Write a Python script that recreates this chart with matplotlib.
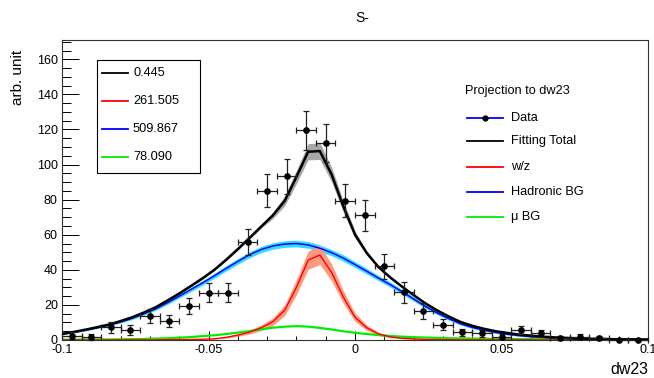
import numpy as np
import matplotlib
matplotlib.use("Agg")
import matplotlib.pyplot as plt
from matplotlib.lines import Line2D
from matplotlib.patches import Rectangle

plt.rcParams["font.family"] = ["Liberation Sans", "DejaVu Sans"]

# ---------------------------------------------------------------------------
# data histogram: 30 bins on [-0.1, 0.1]
# ---------------------------------------------------------------------------
data_y = [2.5, 1.7, 7.2, 5.7, 13.7, 10.9, 19.2, 27.0, 27.0, 56.0,
          85.1, 93.3, 119.6, 112.2, 79.4, 71.0, 41.9, 27.2, 16.7, 8.7,
          4.3, 3.8, 1.9, 5.7, 3.8, 1.0, 1.9, 1.0, 0.0, 0.0]
data_err = [2.0, 1.6, 3.0, 2.6, 4.0, 3.5, 4.5, 5.3, 5.3, 7.5,
            9.4, 10.0, 11.2, 10.9, 9.5, 8.6, 7.0, 6.0, 4.6, 3.2,
            2.2, 2.0, 1.5, 2.5, 2.0, 1.2, 1.5, 1.2, 0.0, 0.0]

# ---------------------------------------------------------------------------
# fit components, sampled every 0.004 on [-0.1, 0.1]
# ---------------------------------------------------------------------------
hadronic = [3.3, 4.4, 5.6, 7.0, 8.5, 10.3, 12.4, 15.0, 17.8, 21.3,
            25.0, 28.8, 32.6, 36.6, 40.8, 44.8, 48.6, 51.6, 53.6, 54.7,
            55.0, 54.2, 52.3, 49.8, 46.7, 43.0, 39.2, 35.3, 31.6, 27.6,
            23.4, 19.2, 15.5, 12.2, 9.3, 7.2, 5.6, 4.3, 3.3, 2.5,
            1.9, 1.5, 1.1, 0.8, 0.6, 0.45, 0.35, 0.25, 0.2, 0.15, 0.1]
had_err = [0.3, 0.4, 0.4, 0.5, 0.5, 0.6, 0.7, 0.8, 0.9, 1.0,
           1.1, 1.2, 1.3, 1.4, 1.5, 1.6, 1.7, 1.8, 1.8, 1.9,
           1.9, 1.9, 1.9, 1.8, 1.8, 1.7, 1.6, 1.5, 1.4, 1.3,
           1.2, 1.1, 1.0, 0.9, 0.8, 0.7, 0.6, 0.5, 0.4, 0.4,
           0.3, 0.3, 0.2, 0.2, 0.2, 0.1, 0.1, 0.1, 0.1, 0.1, 0.1]
wz = [0.0, 0.0, 0.0, 0.0, 0.0, 0.1, 0.1, 0.1, 0.1, 0.2,
      0.2, 0.3, 0.4, 0.7, 1.5, 2.8, 4.5, 7.0, 10.5, 17.0,
      30.0, 45.5, 48.5, 38.6, 24.5, 13.0, 7.0, 3.5, 1.8, 1.0,
      0.6, 0.3, 0.2, 0.2, 0.1, 0.1, 0.1, 0.1, 0.1, 0.1,
      0.1, 0.0, 0.0, 0.0, 0.0, 0.0, 0.0, 0.0, 0.0, 0.0, 0.0]
wz_err = [0.0, 0.0, 0.0, 0.0, 0.0, 0.0, 0.0, 0.0, 0.0, 0.0,
          0.0, 0.0, 0.1, 0.2, 0.4, 0.7, 1.1, 1.6, 2.2, 3.0,
          4.2, 5.2, 5.5, 4.8, 3.6, 2.4, 1.5, 0.9, 0.5, 0.3,
          0.2, 0.1, 0.0, 0.0, 0.0, 0.0, 0.0, 0.0, 0.0, 0.0,
          0.0, 0.0, 0.0, 0.0, 0.0, 0.0, 0.0, 0.0, 0.0, 0.0, 0.0]
mu_bg = [0.2, 0.2, 0.3, 0.3, 0.3, 0.4, 0.5, 0.6, 0.8, 1.0,
         1.3, 1.7, 2.2, 2.7, 3.4, 4.2, 5.1, 6.1, 7.0, 7.6,
         7.9, 7.6, 6.9, 6.0, 5.0, 4.1, 3.4, 2.8, 2.3, 1.9,
         1.6, 1.4, 1.2, 1.0, 0.9, 0.8, 0.7, 0.6, 0.6, 0.5,
         0.5, 0.4, 0.4, 0.4, 0.3, 0.3, 0.3, 0.2, 0.2, 0.2, 0.2]
tot_err = [0.5, 0.5, 0.5, 0.5, 0.5, 0.5, 0.5, 0.5, 0.5, 0.5,
           0.5, 0.5, 0.5, 0.5, 0.6, 0.7, 0.8, 1.0, 1.8, 2.8,
           3.8, 4.6, 4.8, 4.2, 3.2, 2.0, 1.2, 0.8, 0.6, 0.5,
           0.5, 0.5, 0.5, 0.5, 0.5, 0.5, 0.5, 0.5, 0.5, 0.5,
           0.5, 0.5, 0.5, 0.5, 0.5, 0.5, 0.5, 0.5, 0.5, 0.5, 0.5]

legend_values = ["0.445", "261.505", "509.867", "78.090"]
legend_names = ["Data", "Fitting Total", "w/z", "Hadronic BG", "\u03bc BG"]

edges = np.linspace(-0.1, 0.1, len(data_y) + 1)
centers = 0.5 * (edges[:-1] + edges[1:])
half_w = 0.5 * (edges[1] - edges[0])
xg = np.linspace(-0.1, 0.1, len(hadronic))

had = np.array(hadronic)
wzv = np.array(wz)
mu = np.array(mu_bg)
total = had + wzv + mu

W, H = 654, 378
fig = plt.figure(figsize=(W / 100, H / 100), dpi=100)
ax = fig.add_axes([62 / W, 1 - 340 / H, (648 - 62) / W, (340 - 40) / H])

# bands
ax.fill_between(xg, had - np.array(had_err), had + np.array(had_err),
                color="#33ddff", lw=0, zorder=1)
ax.fill_between(xg, wzv - np.array(wz_err), wzv + np.array(wz_err),
                color="#ff9a80", lw=0, zorder=1)
ax.fill_between(xg, total - np.array(tot_err), total + np.array(tot_err),
                color="#a8a8a8", lw=0, zorder=1)

# curves
ax.plot(xg, mu, color="#00ee00", lw=1.6, zorder=2)
ax.plot(xg, wzv, color="#ff0000", lw=1.0, zorder=3)
ax.plot(xg, had, color="#0000ff", lw=1.1, zorder=3)
ax.plot(xg, total, color="black", lw=1.8, zorder=4)

# data
ax.errorbar(centers, data_y, xerr=half_w, yerr=data_err, fmt="o", ms=3.8,
            color="black", ecolor="#222222", elinewidth=0.9, capsize=2,
            capthick=0.9, zorder=5, clip_on=False)

ax.set_xlim(-0.1, 0.1)
ax.set_ylim(0, 171)
ax.set_xticks([-0.1, -0.05, 0, 0.05, 0.1])
ax.set_xticklabels(["-0.1", "-0.05", "0", "0.05", "0.1"])
ax.set_xticks(np.arange(-0.1, 0.1001, 0.01), minor=True)
ax.set_yticks(np.arange(0, 161, 20))
ax.set_yticks(np.arange(0, 171, 5), minor=True)
ax.tick_params(axis="x", which="major", direction="in", length=6.5, width=0.7,
               labelsize=9, pad=3, top=False)
ax.tick_params(axis="x", which="minor", direction="in", length=3.2, width=0.7,
               top=False)
ax.tick_params(axis="y", which="major", direction="in", length=12.5, width=0.7,
               labelsize=9, pad=3, right=False)
ax.tick_params(axis="y", which="minor", direction="in", length=6.3, width=0.7,
               right=False)
for s in ax.spines.values():
    s.set_linewidth(0.8)
    s.set_color("#333333")

# texts
fig.text(362 / W, 1 - 18 / H, "S-", ha="center", va="center", fontsize=10)
fig.text(18 / W, 1 - 50 / H, "arb. unit", ha="center", va="top",
         rotation=90, fontsize=11)
fig.text(648 / W, 1 - 370 / H, "dw23", ha="right", va="center", fontsize=11.5)

# legend 1 (fit parameters)
def fx(px):
    return px / W


def fy(py):
    return 1 - py / H


fig.add_artist(Rectangle((fx(97), fy(173)), fx(200) - fx(97), fy(60) - fy(173),
                         fill=False, ec="black", lw=0.8))
for val, col, py in zip(legend_values, ["black", "red", "blue", "#00ee00"],
                        [73, 101, 129, 157]):
    fig.add_artist(Line2D([fx(102), fx(128)], [fy(py), fy(py)], color=col,
                          lw=1.3))
    fig.text(fx(133), fy(py), val, ha="left", va="center", fontsize=9.2)

# legend 2 (components)
fig.text(fx(465), fy(91), "Projection to dw23", ha="left", va="center",
         fontsize=9.2)
for name, col, py in zip(legend_names,
                         ["blue", "black", "red", "blue", "#00ee00"],
                         [118, 141, 167, 192, 217]):
    fig.add_artist(Line2D([fx(467), fx(503)], [fy(py), fy(py)], color=col,
                          lw=1.3))
    fig.text(fx(511), fy(py), name, ha="left", va="center", fontsize=9.2)
fig.add_artist(Line2D([fx(485)], [fy(118)], marker="o", ms=3.5, color="black"))

fig.savefig("out.png", dpi=100)
